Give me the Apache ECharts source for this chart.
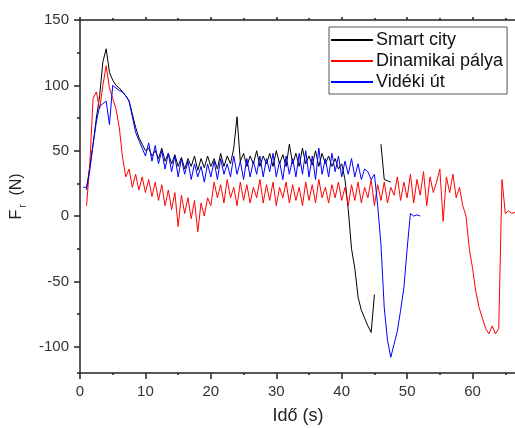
<!DOCTYPE html>
<html>
<head>
<meta charset="utf-8">
<script src="https://cdn.jsdelivr.net/npm/echarts@6/dist/echarts.min.js"></script>
<style>
  html, body { margin: 0; padding: 0; background: #fff; }
  #chart { width: 515px; height: 428px; }
</style>
</head>
<body>
<div id="chart"></div>
<script>
// mintavételi lépés (s)
const step = 0.5;

// Smart city, 1.0 s-tól
const startBlack = 1.0;
const forceBlack = [
    20, 38, 55, 75, 92, 118, 128, 110, 104, 100, 98, 95, 92, 88, 78, 68, 60, 55,
    50, 52, 46, 50, 44, 52, 42, 48, 40, 47, 38, 45, 36, 44, 38, 46, 35, 44, 37, 46,
    38, 44, 36, 48, 38, 46, 40, 52, 76, 42, 48, 38, 46, 40, 50, 38, 46, 40, 48, 38,
    50, 40, 47, 38, 55, 40, 48, 38, 52, 40, 46, 39, 50, 38, 48, 40, 46, 38, 44, 36,
    40, 28, 5, -25, -40, -62, -72, -78, -84, -89, -60, null, 55, 28, 27, 26
];

// Dinamikai pálya, 1.0 s-tól
const startRed = 1.0;
const forceRed = [
    8, 40, 90, 95, 82, 100, 115, 98, 90, 82, 68, 45, 30, 36, 22, 32, 20, 30,
    18, 28, 15, 26, 12, 24, 8, 20, 5, 18, -8, 16, 2, 14, -2, 12, -12, 10, 0, 14,
    8, 26, 14, 24, 10, 28, 14, 22, 8, 26, 12, 24, 10, 22, 14, 28, 10, 24, 12, 26,
    8, 22, 14, 26, 10, 24, 12, 22, 8, 26, 12, 24, 10, 28, 14, 22, 10, 24, 14, 26,
    12, 22, 8, 24, 12, 26, 10, 22, 14, 28, 8, 24, 12, 26, 10, 22, 16, 30, 12, 26,
    14, 32, 10, 28, 16, 34, 8, 30, 18, 26, 36, -4, 30, 18, 32, 14, 22, 8, 0, -25,
    -40, -58, -70, -78, -86, -90, -84, -90, -86, 28, 2, 4, 2, 3
];

// Vidéki út, 0.5 s-tól
const startBlue = 0.5;
const forceBlue = [
    22, 22, 35, 55, 72, 84, 86, 88, 70, 100, 98, 96, 95, 92, 88, 76, 64, 58, 52,
    46, 56, 42, 54, 40, 50, 36, 48, 34, 46, 30, 44, 32, 42, 28, 40, 30, 38, 26, 40,
    30, 42, 28, 44, 32, 40, 30, 46, 32, 42, 28, 44, 30, 42, 32, 46, 30, 44, 34, 48,
    30, 42, 28, 46, 32, 44, 30, 48, 32, 50, 30, 46, 28, 52, 32, 44, 30, 48, 34, 46,
    30, 42, 32, 44, 30, 40, 28, 36, 34, 28, 32, 8, -22, -70, -95, -108, -98, -88, -72,
    -55, -25, 2, 0, 1, 0
];

function toPairs(t0, values) {
    let out = [];
    for (let i = 0; i < values.length; i++) {
        out.push([t0 + i * step, values[i]]);
    }
    return out;
}

const axisColor = '#222';
const font = 'Liberation Sans, Arial';
const labelStyle = { fontSize: 15, color: '#333', fontFamily: font };

// x: a jobb szél kilóg a vászonról (0..70 s, látszik ~66.5-ig)
function xAxisDef(pos, major, minor, labels) {
    return {
        type: 'value', position: pos, min: 0, max: 70, interval: 10,
        axisLine: { show: true, onZero: false, lineStyle: { color: axisColor, width: 1.5 } },
        axisTick: { show: true, inside: false, length: major, lineStyle: { color: axisColor, width: 1.5 } },
        minorTick: { show: true, splitNumber: 2, length: minor, lineStyle: { color: axisColor, width: 1.5 } },
        axisLabel: labels ? Object.assign({ show: true, margin: 11 }, labelStyle) : { show: false },
        splitLine: { show: false },
        minorSplitLine: { show: false }
    };
}

let xBottom = xAxisDef('bottom', 6, 2, true);
xBottom.name = 'Idő (s)';
xBottom.nameLocation = 'middle';
xBottom.nameGap = 34;
// a látható rész közepére (a tengely kilóg jobbra)
xBottom.nameTextStyle = { fontSize: 18, color: '#222', fontFamily: font, padding: [0, 22, 0, 0] };

// y fő osztás (50), -120-tól
const yLeft = {
    type: 'value', position: 'left', min: -120, max: 150, splitNumber: 5,
    axisLine: { show: true, onZero: false, lineStyle: { color: axisColor, width: 1.5 } },
    axisTick: { show: true, inside: false, length: 6, lineStyle: { color: axisColor, width: 1.5 } },
    axisLabel: Object.assign({ show: true, margin: 11, showMinLabel: false }, labelStyle),
    splitLine: { show: false },
    name: '{a|F}{b|r}{a|  (N)}',
    nameLocation: 'middle',
    nameGap: 46,
    nameRotate: 90,
    nameTextStyle: {
        color: '#222',
        fontFamily: font,
        rich: {
            a: { fontSize: 16, lineHeight: 22, color: '#222', fontFamily: font },
            b: { fontSize: 10, lineHeight: 22, verticalAlign: 'bottom', color: '#222', fontFamily: font, padding: [0, 0, 0, 2] }
        }
    }
};

// y köztes osztás (25-nél): 25-tel eltolt segédtengely
const yMinor = {
    type: 'value', position: 'left', min: -95, max: 175, splitNumber: 5,
    axisLine: { show: false, onZero: false },
    axisTick: { show: true, inside: false, length: 3, lineStyle: { color: axisColor, width: 1.5 } },
    axisLabel: { show: false },
    splitLine: { show: false }
};

const option = {
    animation: false,
    backgroundColor: '#fff',
    grid: { left: 80, top: 20, width: 458, bottom: 55, containLabel: false, outerBoundsMode: 'none' },
    legend: {
        orient: 'vertical',
        left: 329,
        top: 27,
        padding: [4, 4, 3, 2],
        itemGap: 3,
        itemWidth: 42,
        itemHeight: 2,
        icon: 'rect',
        borderColor: '#555',
        borderWidth: 1,
        borderRadius: 0,
        backgroundColor: '#fff',
        textStyle: { fontSize: 18, color: '#111', fontFamily: font, padding: [0, 0, 0, -2] },
        data: ['Smart city', 'Dinamikai pálya', 'Vidéki út']
    },
    xAxis: [
        xBottom,
        xAxisDef('top', 3, 2, false)
    ],
    yAxis: [
        yLeft,
        yMinor
    ],
    series: [{
        name: 'Smart city',
        type: 'line',
        symbol: 'none',
        color: '#000000',
        lineStyle: { width: 1, color: '#000000' },
        data: toPairs(startBlack, forceBlack)
    }, {
        name: 'Dinamikai pálya',
        type: 'line',
        symbol: 'none',
        color: '#ff0000',
        lineStyle: { width: 1, color: '#ff0000' },
        data: toPairs(startRed, forceRed)
    }, {
        name: 'Vidéki út',
        type: 'line',
        symbol: 'none',
        color: '#0000ff',
        lineStyle: { width: 1, color: '#0000ff' },
        data: toPairs(startBlue, forceBlue)
    }]
};

echarts.init(document.getElementById('chart')).setOption(option);
</script>
</body>
</html>
